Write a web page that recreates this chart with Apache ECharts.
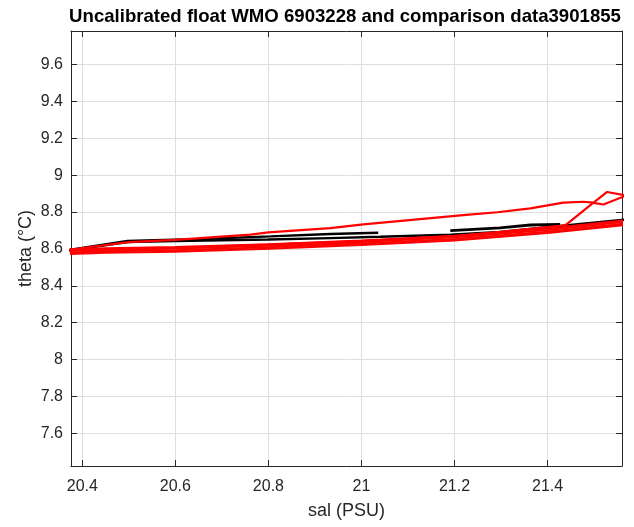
<!DOCTYPE html>
<html>
<head>
<meta charset="utf-8">
<script src="https://cdn.jsdelivr.net/npm/echarts@6/dist/echarts.min.js"></script>
<style>
  html, body { margin: 0; padding: 0; background: #fff; }
  #chart { width: 634px; height: 527px; }
</style>
</head>
<body>
<div id="chart"></div>
<script>
// Axis ranges (sal in PSU, theta in degC)
const salRange = [20.3757, 21.56];
const thetaRange = [7.423, 9.782];

// Float profiles (black)
const floatA_sal   = [20.36, 20.497, 20.6, 20.8, 20.933, 21.04, 21.191, 21.298, 21.405, 21.58];
const floatA_theta = [8.587, 8.638, 8.643, 8.651, 8.659, 8.666, 8.677, 8.692, 8.719, 8.762];
const floatB_sal   = [20.36, 20.497, 20.654, 20.804, 20.933, 21.036];
const floatB_theta = [8.590, 8.643, 8.654, 8.668, 8.681, 8.688];
const floatC_sal   = [21.191, 21.298, 21.363, 21.427];
const floatC_theta = [8.699, 8.714, 8.730, 8.733];

// Comparison profiles (red)
const refBand_sal = [20.36, 20.45, 20.6, 20.8, 21.0, 21.2, 21.4, 21.58];
const ref1_theta = [8.598, 8.604, 8.610, 8.626, 8.646, 8.671, 8.711, 8.759];
const ref2_theta = [8.590, 8.596, 8.602, 8.618, 8.638, 8.663, 8.703, 8.751];
const ref3_theta = [8.580, 8.587, 8.593, 8.609, 8.629, 8.654, 8.694, 8.742];
const ref4_theta = [8.572, 8.579, 8.585, 8.601, 8.621, 8.646, 8.686, 8.734];
const ref5_sal   = [20.36, 20.5, 20.6, 20.761, 20.8, 20.933, 21.004, 21.219, 21.292, 21.363, 21.434, 21.477, 21.492, 21.520, 21.58];
const ref5_theta = [8.592, 8.637, 8.649, 8.678, 8.690, 8.713, 8.733, 8.784, 8.799, 8.820, 8.851, 8.856, 8.853, 8.841, 8.901];
const ref6_sal   = [20.36, 20.6, 21.0, 21.2, 21.438, 21.492, 21.528, 21.58];
const ref6_theta = [8.592, 8.605, 8.643, 8.668, 8.728, 8.838, 8.909, 8.884];

const titleText = 'Uncalibrated float WMO 6903228 and comparison data3901855';
const xName = 'sal (PSU)';
const yName = 'theta (\u00B0C)';

const FONT = '"Liberation Sans", Arial, Helvetica, sans-serif';
const AXIS_COLOR = '#262626';
const GRID_COLOR = '#dedede';

function pairs(xs, ys) { return xs.map((x, i) => [x, ys[i]]); }
function profile(xs, ys, color, width) {
  return {
    type: 'line', xAxisIndex: 0, yAxisIndex: 0,
    data: pairs(xs, ys), symbol: 'none', clip: true,
    lineStyle: { color: color, width: width }, silent: true
  };
}

const chart = echarts.init(document.getElementById('chart'), null, { renderer: 'canvas' });

const baseX = {
  type: 'value', min: salRange[0], max: salRange[1], splitNumber: 5,
  axisLine: { show: true, onZero: false, lineStyle: { color: AXIS_COLOR, width: 1 } },
  axisTick: { show: true, inside: true, length: 6, lineStyle: { color: AXIS_COLOR } }
};
const baseY = {
  type: 'value', min: thetaRange[0], max: thetaRange[1], splitNumber: 10,
  axisLine: { show: true, onZero: false, lineStyle: { color: AXIS_COLOR, width: 1 } },
  axisTick: { show: true, inside: true, length: 6, lineStyle: { color: AXIS_COLOR } }
};

chart.setOption({
  animation: false,
  backgroundColor: '#ffffff',
  grid: { left: 71, right: 12, top: 31, bottom: 61, containLabel: false },
  graphic: [{
    type: 'text', x: 345, y: 17,
    style: {
      text: titleText, fill: '#000', textAlign: 'center', textVerticalAlign: 'middle',
      font: 'bold 18.6px ' + FONT
    }
  }],
  xAxis: [
    Object.assign({}, baseX, {
      position: 'bottom',
      name: xName, nameLocation: 'middle', nameGap: 36, nameMoveOverlap: false,
      nameTextStyle: { fontFamily: FONT, fontSize: 18, color: AXIS_COLOR },
      axisLabel: { show: true, margin: 13, fontFamily: FONT, fontSize: 16, color: AXIS_COLOR,
                   showMinLabel: false, showMaxLabel: false },
      splitLine: { show: true, lineStyle: { color: GRID_COLOR, width: 1 } }
    }),
    Object.assign({}, baseX, {
      position: 'top',
      axisLabel: { show: false },
      splitLine: { show: false }
    })
  ],
  yAxis: [
    Object.assign({}, baseY, {
      position: 'left',
      name: yName, nameLocation: 'middle', nameGap: 36, nameRotate: 90, nameMoveOverlap: false,
      nameTextStyle: { fontFamily: FONT, fontSize: 18, color: AXIS_COLOR },
      axisLabel: { show: true, margin: 8, fontFamily: FONT, fontSize: 16, color: AXIS_COLOR,
                   showMinLabel: false, showMaxLabel: false },
      splitLine: { show: true, lineStyle: { color: GRID_COLOR, width: 1 } }
    }),
    Object.assign({}, baseY, {
      position: 'right',
      axisLabel: { show: false },
      splitLine: { show: false }
    })
  ],
  series: [
    profile(floatA_sal, floatA_theta, '#000000', 2.4),
    profile(floatB_sal, floatB_theta, '#000000', 2.4),
    profile(floatC_sal, floatC_theta, '#000000', 2.8),
    profile(refBand_sal, ref1_theta, '#ff0000', 2),
    profile(refBand_sal, ref2_theta, '#ff0000', 2),
    profile(refBand_sal, ref3_theta, '#ff0000', 2),
    profile(refBand_sal, ref4_theta, '#ff0000', 2),
    profile(ref5_sal, ref5_theta, '#ff0000', 2.2),
    profile(ref6_sal, ref6_theta, '#ff0000', 2.2)
  ]
});
</script>
</body>
</html>
